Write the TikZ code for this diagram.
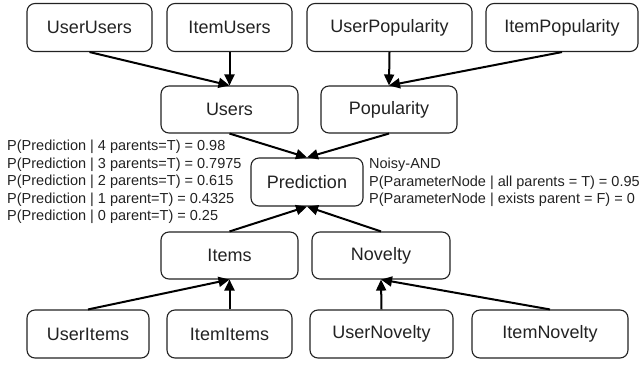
\documentclass[tikz,border=0pt]{standalone}
\usepackage{fontspec}
\setmainfont{Liberation Sans}
\usetikzlibrary{arrows.meta}
\definecolor{ink}{RGB}{34,34,34}
\tikzset{
  box/.style={draw=ink, line width=1.1pt, rounded corners=8pt, inner sep=0pt,
    text=ink, font=\fontsize{18}{20}\selectfont, minimum height=48pt},
  edge/.style={draw=black, line width=2pt, -{Triangle[length=11pt,width=10pt]}},
  note/.style={anchor=west, align=left, inner sep=0pt, text=ink,
    font=\fontsize{14.5}{17.5}\selectfont}
}
\begin{document}
\begin{tikzpicture}[x=1pt,y=-1pt]
\useasboundingbox (0,0) rectangle (640,365);
% top row
\node[box, minimum width=125pt] (uu) at (89.5,27.5) {UserUsers};
\node[box, minimum width=125pt] (iu) at (229.5,27.5) {ItemUsers};
\node[box, minimum width=165pt] (up) at (389.5,27.5) {UserPopularity};
\node[box, minimum width=152pt] (ip) at (562,27.5) {ItemPopularity};
% second row
\node[box, minimum width=137pt, minimum height=47pt] (users) at (229.5,109.5) {Users};
\node[box, minimum width=136pt, minimum height=47pt] (pop) at (389,109.5) {Popularity};
% middle
\node[box, minimum width=112pt] (pred) at (307,182) {Prediction};
% third row
\node[box, minimum width=137pt, minimum height=47pt] (items) at (229.5,255.5) {Items};
\node[box, minimum width=138pt, minimum height=47pt] (nov) at (381,255.5) {Novelty};
% bottom row
\node[box, minimum width=122pt] (ui) at (88,334) {UserItems};
\node[box, minimum width=125pt] (ii) at (229.5,334) {ItemItems};
\node[box, minimum width=143pt] (un) at (381.5,334) {UserNovelty};
\node[box, minimum width=156pt] (in) at (550,334) {ItemNovelty};
% edges
\draw[edge] (uu.south) -- (users.north);
\draw[edge] (iu.south) -- (users.north);
\draw[edge] (up.south) -- (pop.north);
\draw[edge] (ip.south) -- (pop.north);
\draw[edge] (users.south) -- (pred.north);
\draw[edge] (pop.south) -- (pred.north);
\draw[edge] (items.north) -- (pred.south);
\draw[edge] (nov.north) -- (pred.south);
\draw[edge] (ui.north) -- (items.south);
\draw[edge] (ii.north) -- (items.south);
\draw[edge] (un.north) -- (nov.south);
\draw[edge] (in.north) -- (nov.south);
% notes
\node[note] (left) at (7,182) {P(Prediction | 4 parents=T) = 0.98\\P(Prediction | 3 parents=T) = 0.7975\\P(Prediction | 2 parents=T) = 0.615\\P(Prediction | 1 parent=T) = 0.4325\\P(Prediction | 0 parent=T) = 0.25};
\node[note] (right) at (369,182.5) {Noisy-AND\\P(ParameterNode | all parents = T) = 0.95\\P(ParameterNode | exists parent = F) = 0};
\end{tikzpicture}
\end{document}
